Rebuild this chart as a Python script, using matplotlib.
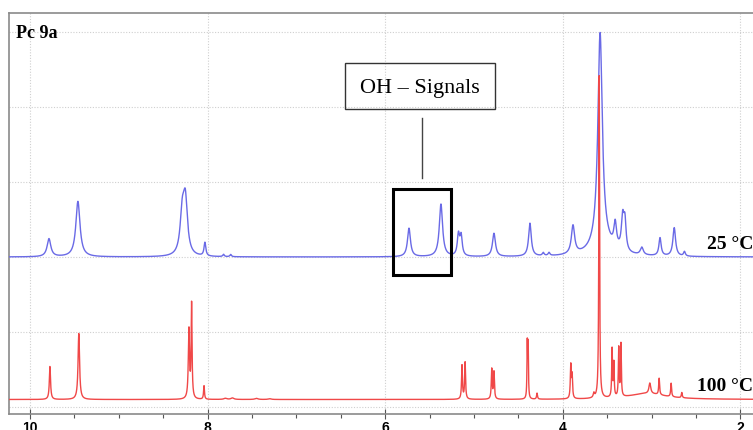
# 1H NMR of Pc 9a at 25 and 100 degC
import numpy as np
import matplotlib
matplotlib.use('Agg')
import matplotlib.pyplot as plt
import matplotlib.patches as patch


# peak tables: shift (ppm), height, half width (ppm)
blue_shift = [9.786, 9.46, 8.285, 8.25, 8.03, 7.82, 7.74,
              5.732, 5.372, 5.175, 5.145, 4.775, 4.37, 4.22, 4.155,
              3.885, 3.58, 3.55, 3.41, 3.325, 3.30, 3.11, 2.905, 2.745, 2.63];
blue_height = [0.24, 0.74, 0.52, 0.70, 0.18, 0.03, 0.03,
               0.38, 0.70, 0.28, 0.26, 0.31, 0.44, 0.04, 0.04,
               0.38, 2.85, 0.14, 0.32, 0.44, 0.36, 0.10, 0.24, 0.38, 0.06];
blue_width = [0.025, 0.028, 0.028, 0.028, 0.012, 0.01, 0.01,
              0.02, 0.022, 0.015, 0.015, 0.02, 0.018, 0.012, 0.012,
              0.022, 0.03, 0.14, 0.018, 0.018, 0.015, 0.02, 0.015, 0.018, 0.012];

red_shift = [9.775, 9.45, 8.21, 8.18, 8.04, 7.80, 7.72, 7.45, 7.30,
             5.135, 5.10, 4.80, 4.775, 4.40, 4.39, 4.29,
             3.91, 3.895, 3.65, 3.59, 3.445, 3.425, 3.37, 3.345,
             3.05, 3.02, 2.915, 2.78, 2.66];
red_height = [0.44, 0.88, 0.92, 1.25, 0.18, 0.015, 0.02, 0.015, 0.01,
              0.45, 0.49, 0.40, 0.36, 0.72, 0.70, 0.08,
              0.44, 0.30, 0.06, 4.30, 0.64, 0.45, 0.65, 0.70,
              0.08, 0.14, 0.22, 0.18, 0.07];
red_width = [0.008, 0.01, 0.008, 0.006, 0.006, 0.02, 0.02, 0.02, 0.02,
             0.006, 0.006, 0.006, 0.006, 0.004, 0.004, 0.006,
             0.006, 0.006, 0.008, 0.005, 0.005, 0.005, 0.005, 0.005,
             0.25, 0.012, 0.006, 0.006, 0.006];

blue_offset = 2.0;  # 25 degC trace
red_offset = 0.1;   # 100 degC trace

tick_pos = [10, 8, 6, 4, 2];
tick_lbl = ['10', '8', '6', '4', '2'];


def spectrum(ppm, shift, height, width):
    y = np.zeros_like(ppm);
    for s, h, w in zip(shift, height, width):
        y += h/(1 + ((ppm - s)/w)**2);
    return y;


if __name__ == "__main__":
    ppm = np.linspace(10.4, 1.7, 30000);
    blue = spectrum(ppm, blue_shift, blue_height, blue_width) + blue_offset;
    red = spectrum(ppm, red_shift, red_height, red_width) + red_offset;

    fig = plt.figure(figsize=(7.53, 4.31), dpi=100);
    axs = fig.add_axes([9/753, 16/431, 744/753, 401/431]);

    axs.plot(ppm, blue, color='#6a6ae6', lw=1.0, zorder=3);
    axs.plot(ppm, red, color='#f04848', lw=1.0, zorder=3);

    axs.set_xlim(10.236, 1.858);
    axs.set_ylim(-0.093, 5.253);

    # dotted grid
    for g in range(0, 6):
        axs.axhline(g, color='#cfcfcf', lw=0.8, ls=(0, (1, 1.5)), zorder=1);
    for g in tick_pos:
        axs.axvline(g, color='#cfcfcf', lw=0.8, ls=(0, (1, 1.5)), zorder=1);

    axs.set_xticks(tick_pos);
    axs.set_xticklabels(tick_lbl, fontfamily='Liberation Sans',
                        fontweight='bold', fontsize=10);
    axs.set_xticks(np.arange(2, 10.5, 0.5), minor=True);
    axs.tick_params(axis='x', which='major', direction='inout', length=7,
                    width=0.8, color='#555555', pad=1);
    axs.tick_params(axis='x', which='minor', direction='out', length=3,
                    width=0.8, color='#555555');
    axs.set_yticks([]);

    for s in ['top', 'left', 'bottom']:
        axs.spines[s].set_color('#8a8a8a');
        axs.spines[s].set_linewidth(1.2);
    axs.spines['right'].set_visible(False);

    serif = 'Liberation Serif';
    fig.text(16/753, 1 - 33/431, 'Pc 9a', fontfamily=serif, fontweight='bold',
             fontsize=13, va='center', ha='left');
    fig.text(1.0, 1 - 245/431, '25 °C', fontfamily=serif, fontweight='bold',
             fontsize=14, va='center', ha='right');
    fig.text(1.0, 1 - 387/431, '100 °C', fontfamily=serif, fontweight='bold',
             fontsize=14, va='center', ha='right');

    # label box and pointer
    fig.patches.append(patch.Rectangle((345/753, 1 - 110/431), 150/753, 46/431,
                                       transform=fig.transFigure, fill=False,
                                       edgecolor='#333333', lw=1));
    fig.text(420/753, 1 - 88/431, 'OH – Signals', fontfamily=serif,
             fontsize=16, va='center', ha='center');
    fig.lines.append(plt.Line2D([422/753, 422/753], [1 - 119/431, 1 - 179/431],
                                transform=fig.transFigure, color='#444444', lw=1));

    axs.add_patch(patch.Rectangle((5.259, 1.76), 5.912 - 5.259, 2.907 - 1.76,
                                  fill=False, edgecolor='k', lw=2.2, zorder=4));

    fig.savefig('out.png', dpi=100);
